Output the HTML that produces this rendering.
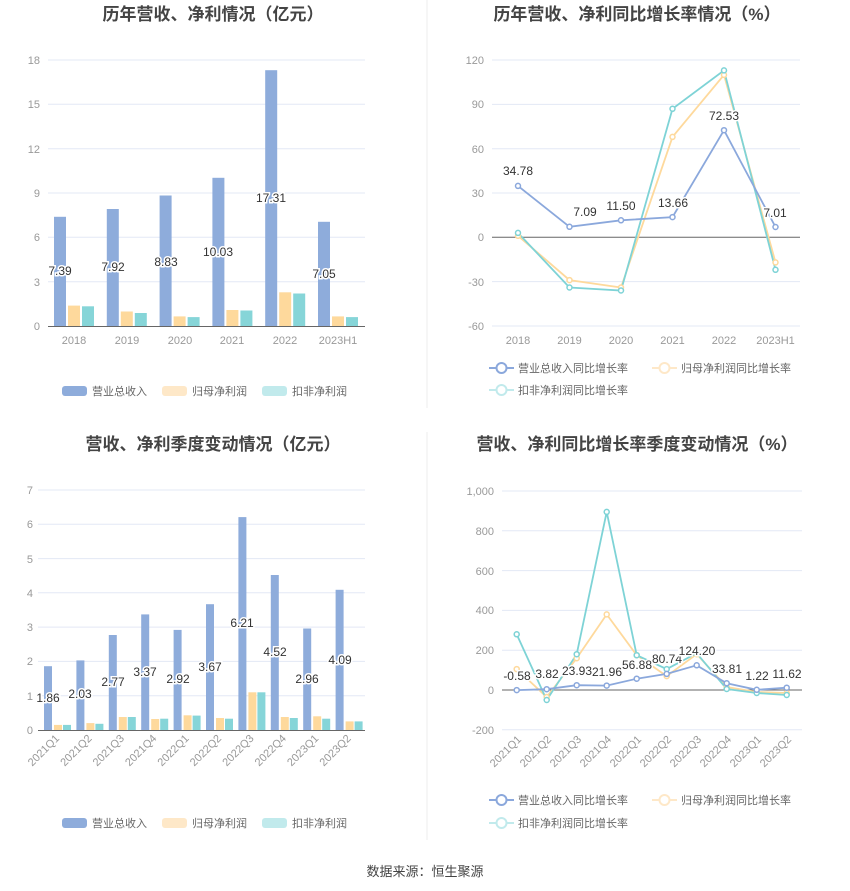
<!DOCTYPE html>
<html><head><meta charset="utf-8"><style>
body{margin:0;background:#fff;}
svg{display:block;font-family:"Liberation Sans","Noto Sans CJK SC",sans-serif;}
.t{font-size:17px;font-weight:bold;fill:#444;text-anchor:middle}
.ax{font-size:11px;fill:#999}
.g{stroke:#e3e8f5;stroke-width:1}
.v{font-size:12px;fill:#333;text-anchor:middle;paint-order:stroke;stroke:#fff;stroke-width:3px}
.lg{font-size:11px;fill:#666}
</style></head><body>
<svg width="850" height="891" viewBox="0 0 850 891">
<line x1="427" y1="0" x2="427" y2="408" stroke="#eee"/>
<line x1="427" y1="432" x2="427" y2="840" stroke="#eee"/>
<text class="t" x="213" y="20">历年营收、净利情况（亿元）</text>
<text class="t" x="637" y="20">历年营收、净利同比增长率情况（%）</text>
<text class="t" x="213" y="450">营收、净利季度变动情况（亿元）</text>
<text class="t" x="637" y="450">营收、净利同比增长率季度变动情况（%）</text>

<!-- TL -->
<g class="g"><line x1="48" x2="365" y1="60" y2="60"/><line x1="48" x2="365" y1="104.3" y2="104.3"/><line x1="48" x2="365" y1="148.7" y2="148.7"/><line x1="48" x2="365" y1="193" y2="193"/><line x1="48" x2="365" y1="237.3" y2="237.3"/><line x1="48" x2="365" y1="281.7" y2="281.7"/></g>
<g class="ax" text-anchor="end"><text x="40" y="64">18</text><text x="40" y="108">15</text><text x="40" y="153">12</text><text x="40" y="197">9</text><text x="40" y="241">6</text><text x="40" y="286">3</text><text x="40" y="330">0</text></g>
<g fill="#8eacdb"><rect x="54" y="216.8" width="12" height="109.2"/><rect x="106.8" y="209" width="12" height="117"/><rect x="159.6" y="195.5" width="12" height="130.5"/><rect x="212.4" y="177.8" width="12" height="148.2"/><rect x="265.2" y="70.2" width="12" height="255.8"/><rect x="318" y="221.8" width="12" height="104.2"/></g>
<g fill="#fed99c"><rect x="68" y="305.6" width="12" height="20.4"/><rect x="120.8" y="311.5" width="12" height="14.5"/><rect x="173.6" y="316.4" width="12" height="9.6"/><rect x="226.4" y="310" width="12" height="16"/><rect x="279.2" y="292.3" width="12" height="33.7"/><rect x="332" y="316.4" width="12" height="9.6"/></g>
<g fill="#86d5d8"><rect x="82" y="306.3" width="12" height="19.7"/><rect x="134.8" y="313" width="12" height="13"/><rect x="187.6" y="317.1" width="12" height="8.9"/><rect x="240.4" y="310.5" width="12" height="15.5"/><rect x="293.2" y="293.5" width="12" height="32.5"/><rect x="346" y="317.1" width="12" height="8.9"/></g>
<line x1="48" x2="365" y1="326.5" y2="326.5" stroke="#666"/>
<g class="v"><text x="60" y="275">7.39</text><text x="113" y="271">7.92</text><text x="166" y="266">8.83</text><text x="218" y="256">10.03</text><text x="271" y="202">17.31</text><text x="324" y="278">7.05</text></g>
<g class="ax" text-anchor="middle"><text x="74" y="344">2018</text><text x="127" y="344">2019</text><text x="180" y="344">2020</text><text x="232" y="344">2021</text><text x="285" y="344">2022</text><text x="338" y="344">2023H1</text></g>
<rect x="62" y="386" width="25" height="10" rx="3" fill="#8eacdb"/><text class="lg" x="92" y="395">营业总收入</text>
<rect x="162" y="386" width="25" height="10" rx="3" fill="#fee8c8"/><text class="lg" x="192" y="395" fill="#999">归母净利润</text>
<rect x="262" y="386" width="25" height="10" rx="3" fill="#c1eaec"/><text class="lg" x="292" y="395" fill="#999">扣非净利润</text>

<!-- TR -->
<g class="g"><line x1="492" x2="800" y1="60" y2="60"/><line x1="492" x2="800" y1="104.4" y2="104.4"/><line x1="492" x2="800" y1="148.7" y2="148.7"/><line x1="492" x2="800" y1="193" y2="193"/><line x1="492" x2="800" y1="281.6" y2="281.6"/><line x1="492" x2="800" y1="326" y2="326"/></g>
<line x1="492" x2="800" y1="237.3" y2="237.3" stroke="#666"/>
<g class="ax" text-anchor="end"><text x="484" y="64">120</text><text x="484" y="108">90</text><text x="484" y="153">60</text><text x="484" y="197">30</text><text x="484" y="241">0</text><text x="484" y="286">-30</text><text x="484" y="330">-60</text></g>
<g fill="none" stroke-width="1.8">
<polyline stroke="#fed99c" points="518,235.8 569.5,280.1 621,287.5 672.5,136.9 724,74.9 775.5,262.4"/>
<polyline stroke="#7ed3d6" points="518,232.9 569.5,287.5 621,290.5 672.5,108.8 724,70.4 775.5,269.8"/>
<polyline stroke="#8ba8dc" points="518,185.9 569.5,226.8 621,220.3 672.5,217.1 724,130.2 775.5,227"/>
</g>
<g fill="#fff" stroke-width="1.5">
<g stroke="#fed99c"><circle cx="518" cy="235.8" r="2.5"/><circle cx="569.5" cy="280.1" r="2.5"/><circle cx="621" cy="287.5" r="2.5"/><circle cx="672.5" cy="136.9" r="2.5"/><circle cx="724" cy="74.9" r="2.5"/><circle cx="775.5" cy="262.4" r="2.5"/></g>
<g stroke="#7ed3d6"><circle cx="518" cy="232.9" r="2.5"/><circle cx="569.5" cy="287.5" r="2.5"/><circle cx="621" cy="290.5" r="2.5"/><circle cx="672.5" cy="108.8" r="2.5"/><circle cx="724" cy="70.4" r="2.5"/><circle cx="775.5" cy="269.8" r="2.5"/></g>
<g stroke="#8ba8dc"><circle cx="518" cy="185.9" r="2.5"/><circle cx="569.5" cy="226.8" r="2.5"/><circle cx="621" cy="220.3" r="2.5"/><circle cx="672.5" cy="217.1" r="2.5"/><circle cx="724" cy="130.2" r="2.5"/><circle cx="775.5" cy="227" r="2.5"/></g>
</g>
<g class="v"><text x="518" y="175">34.78</text><text x="585" y="216">7.09</text><text x="621" y="210">11.50</text><text x="673" y="207">13.66</text><text x="724" y="120">72.53</text><text x="775" y="217">7.01</text></g>
<g class="ax" text-anchor="middle"><text x="518" y="344">2018</text><text x="569.5" y="344">2019</text><text x="621" y="344">2020</text><text x="672.5" y="344">2021</text><text x="724" y="344">2022</text><text x="775.5" y="344">2023H1</text></g>
<g fill="#fff" stroke-width="2">
<line x1="489" x2="514" y1="368" y2="368" stroke="#8ba8dc"/><circle cx="501.5" cy="368" r="5" stroke="#8ba8dc"/>
<line x1="652" x2="677" y1="368" y2="368" stroke="#fee8c8"/><circle cx="664.5" cy="368" r="5" stroke="#fee8c8"/>
<line x1="489" x2="514" y1="390" y2="390" stroke="#c1eaec"/><circle cx="501.5" cy="390" r="5" stroke="#c1eaec"/>
</g>
<text class="lg" x="518" y="372">营业总收入同比增长率</text><text class="lg" x="681" y="372" fill="#999">归母净利润同比增长率</text><text class="lg" x="518" y="394" fill="#999">扣非净利润同比增长率</text>

<!-- BL -->
<g class="g"><line x1="38" x2="365" y1="490" y2="490"/><line x1="38" x2="365" y1="524.3" y2="524.3"/><line x1="38" x2="365" y1="558.6" y2="558.6"/><line x1="38" x2="365" y1="592.8" y2="592.8"/><line x1="38" x2="365" y1="627.1" y2="627.1"/><line x1="38" x2="365" y1="661.4" y2="661.4"/><line x1="38" x2="365" y1="695.7" y2="695.7"/></g>
<g class="ax" text-anchor="end"><text x="33" y="494">7</text><text x="33" y="528">6</text><text x="33" y="563">5</text><text x="33" y="597">4</text><text x="33" y="631">3</text><text x="33" y="665">2</text><text x="33" y="700">1</text><text x="33" y="734">0</text></g>
<g fill="#8eacdb"><rect x="44" y="666.2" width="8" height="63.8"/><rect x="76.4" y="660.4" width="8" height="69.6"/><rect x="108.8" y="635" width="8" height="95"/><rect x="141.2" y="614.4" width="8" height="115.6"/><rect x="173.6" y="629.9" width="8" height="100.1"/><rect x="206" y="604.2" width="8" height="125.8"/><rect x="238.4" y="517.1" width="8" height="212.9"/><rect x="270.8" y="575" width="8" height="155"/><rect x="303.2" y="628.5" width="8" height="101.5"/><rect x="335.6" y="589.8" width="8" height="140.2"/></g>
<g fill="#fed99c"><rect x="54" y="724.9" width="8" height="5.1"/><rect x="86.4" y="723.1" width="8" height="6.9"/><rect x="118.8" y="717" width="8" height="13"/><rect x="151.2" y="719" width="8" height="11"/><rect x="183.6" y="715.3" width="8" height="14.7"/><rect x="216" y="718" width="8" height="12"/><rect x="248.4" y="692.3" width="8" height="37.7"/><rect x="280.8" y="717" width="8" height="13"/><rect x="313.2" y="716.3" width="8" height="13.7"/><rect x="345.6" y="721.4" width="8" height="8.6"/></g>
<g fill="#86d5d8"><rect x="63" y="724.9" width="8" height="5.1"/><rect x="95.4" y="723.8" width="8" height="6.2"/><rect x="127.8" y="717" width="8" height="13"/><rect x="160.2" y="718.7" width="8" height="11.3"/><rect x="192.6" y="715.6" width="8" height="14.4"/><rect x="225" y="718.7" width="8" height="11.3"/><rect x="257.4" y="692.3" width="8" height="37.7"/><rect x="289.8" y="718" width="8" height="12"/><rect x="322.2" y="718.7" width="8" height="11.3"/><rect x="354.6" y="721.4" width="8" height="8.6"/></g>
<line x1="38" x2="365" y1="730.5" y2="730.5" stroke="#666"/>
<g class="v"><text x="48" y="702">1.86</text><text x="80" y="698">2.03</text><text x="113" y="686">2.77</text><text x="145" y="676">3.37</text><text x="178" y="683">2.92</text><text x="210" y="671">3.67</text><text x="242" y="627">6.21</text><text x="275" y="656">4.52</text><text x="307" y="683">2.96</text><text x="340" y="664">4.09</text></g>
<g class="ax" text-anchor="end">
<text transform="translate(60,739) rotate(-45)">2021Q1</text><text transform="translate(92.4,739) rotate(-45)">2021Q2</text><text transform="translate(124.8,739) rotate(-45)">2021Q3</text><text transform="translate(157.2,739) rotate(-45)">2021Q4</text><text transform="translate(189.6,739) rotate(-45)">2022Q1</text><text transform="translate(222,739) rotate(-45)">2022Q2</text><text transform="translate(254.4,739) rotate(-45)">2022Q3</text><text transform="translate(286.8,739) rotate(-45)">2022Q4</text><text transform="translate(319.2,739) rotate(-45)">2023Q1</text><text transform="translate(351.6,739) rotate(-45)">2023Q2</text></g>
<rect x="62" y="818" width="25" height="10" rx="3" fill="#8eacdb"/><text class="lg" x="92" y="827">营业总收入</text>
<rect x="162" y="818" width="25" height="10" rx="3" fill="#fee8c8"/><text class="lg" x="192" y="827" fill="#999">归母净利润</text>
<rect x="262" y="818" width="25" height="10" rx="3" fill="#c1eaec"/><text class="lg" x="292" y="827" fill="#999">扣非净利润</text>

<!-- BR -->
<g class="g"><line x1="502" x2="802" y1="491" y2="491"/><line x1="502" x2="802" y1="530.8" y2="530.8"/><line x1="502" x2="802" y1="570.6" y2="570.6"/><line x1="502" x2="802" y1="610.4" y2="610.4"/><line x1="502" x2="802" y1="650.2" y2="650.2"/><line x1="502" x2="802" y1="729.8" y2="729.8"/></g>
<line x1="502" x2="802" y1="690" y2="690" stroke="#666"/>
<g class="ax" text-anchor="end"><text x="494" y="495">1,000</text><text x="494" y="535">800</text><text x="494" y="575">600</text><text x="494" y="614">400</text><text x="494" y="654">200</text><text x="494" y="694">0</text><text x="494" y="734">-200</text></g>
<g fill="none" stroke-width="1.8">
<polyline stroke="#fed99c" points="516.7,669.1 546.7,697 576.7,658.2 606.7,614.4 636.7,655.2 666.7,676.1 696.7,654.2 726.7,687 756.7,692 786.7,693"/>
<polyline stroke="#7ed3d6" points="516.7,634.3 546.7,700 576.7,654.2 606.7,511.9 636.7,655.2 666.7,669.1 696.7,653.2 726.7,689 756.7,693 786.7,695"/>
<polyline stroke="#8ba8dc" points="516.7,690.1 546.7,689.2 576.7,685.2 606.7,685.6 636.7,678.7 666.7,673.9 696.7,665.3 726.7,683.3 756.7,689.8 786.7,687.7"/>
</g>
<g fill="#fff" stroke-width="1.5">
<g stroke="#fed99c"><circle cx="516.7" cy="669.1" r="2.5"/><circle cx="546.7" cy="697" r="2.5"/><circle cx="576.7" cy="658.2" r="2.5"/><circle cx="606.7" cy="614.4" r="2.5"/><circle cx="636.7" cy="655.2" r="2.5"/><circle cx="666.7" cy="676.1" r="2.5"/><circle cx="696.7" cy="654.2" r="2.5"/><circle cx="726.7" cy="687" r="2.5"/><circle cx="756.7" cy="692" r="2.5"/><circle cx="786.7" cy="693" r="2.5"/></g>
<g stroke="#7ed3d6"><circle cx="516.7" cy="634.3" r="2.5"/><circle cx="546.7" cy="700" r="2.5"/><circle cx="576.7" cy="654.2" r="2.5"/><circle cx="606.7" cy="511.9" r="2.5"/><circle cx="636.7" cy="655.2" r="2.5"/><circle cx="666.7" cy="669.1" r="2.5"/><circle cx="696.7" cy="653.2" r="2.5"/><circle cx="726.7" cy="689" r="2.5"/><circle cx="756.7" cy="693" r="2.5"/><circle cx="786.7" cy="695" r="2.5"/></g>
<g stroke="#8ba8dc"><circle cx="516.7" cy="690.1" r="2.5"/><circle cx="546.7" cy="689.2" r="2.5"/><circle cx="576.7" cy="685.2" r="2.5"/><circle cx="606.7" cy="685.6" r="2.5"/><circle cx="636.7" cy="678.7" r="2.5"/><circle cx="666.7" cy="673.9" r="2.5"/><circle cx="696.7" cy="665.3" r="2.5"/><circle cx="726.7" cy="683.3" r="2.5"/><circle cx="756.7" cy="689.8" r="2.5"/><circle cx="786.7" cy="687.7" r="2.5"/></g>
</g>
<g class="v"><text x="517" y="680">-0.58</text><text x="547" y="678">3.82</text><text x="577" y="675">23.93</text><text x="607" y="676">21.96</text><text x="637" y="669">56.88</text><text x="667" y="663">80.74</text><text x="697" y="655">124.20</text><text x="727" y="673">33.81</text><text x="757" y="680">1.22</text><text x="787" y="678">11.62</text></g>
<g class="ax" text-anchor="end">
<text transform="translate(522,740) rotate(-45)">2021Q1</text><text transform="translate(552,740) rotate(-45)">2021Q2</text><text transform="translate(582,740) rotate(-45)">2021Q3</text><text transform="translate(612,740) rotate(-45)">2021Q4</text><text transform="translate(642,740) rotate(-45)">2022Q1</text><text transform="translate(672,740) rotate(-45)">2022Q2</text><text transform="translate(702,740) rotate(-45)">2022Q3</text><text transform="translate(732,740) rotate(-45)">2022Q4</text><text transform="translate(762,740) rotate(-45)">2023Q1</text><text transform="translate(792,740) rotate(-45)">2023Q2</text></g>
<g fill="#fff" stroke-width="2">
<line x1="489" x2="514" y1="800" y2="800" stroke="#8ba8dc"/><circle cx="501.5" cy="800" r="5" stroke="#8ba8dc"/>
<line x1="652" x2="677" y1="800" y2="800" stroke="#fee8c8"/><circle cx="664.5" cy="800" r="5" stroke="#fee8c8"/>
<line x1="489" x2="514" y1="823" y2="823" stroke="#c1eaec"/><circle cx="501.5" cy="823" r="5" stroke="#c1eaec"/>
</g>
<text class="lg" x="518" y="804">营业总收入同比增长率</text><text class="lg" x="681" y="804" fill="#999">归母净利润同比增长率</text><text class="lg" x="518" y="827" fill="#999">扣非净利润同比增长率</text>

<text x="425" y="876" text-anchor="middle" font-size="13" fill="#444">数据来源：恒生聚源</text>
</svg>
</body></html>
